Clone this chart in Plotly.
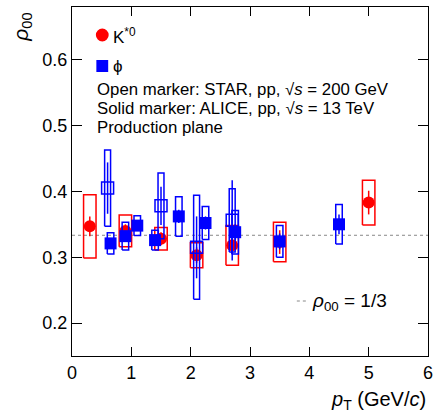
import plotly.graph_objects as go

# ALICE K*0 (solid red circles)
k_x = [0.3, 0.9, 1.5, 2.1, 2.7, 3.5, 5.0]
k_y = [0.347, 0.340, 0.328, 0.303, 0.318, 0.323, 0.383]
k_stat = [0.015, 0.010, 0.010, 0.012, 0.014, 0.018, 0.018]
k_sys = [0.048, 0.024, 0.017, 0.019, 0.030, 0.030, 0.034]

# ALICE phi (solid blue squares)
p_x = [0.65, 0.9, 1.1, 1.4, 1.8, 2.25, 2.75, 3.5, 4.5]
p_y = [0.321, 0.332, 0.348, 0.326, 0.362, 0.352, 0.338, 0.324, 0.350]
p_stat = [0.008, 0.008, 0.008, 0.008, 0.010, 0.010, 0.012, 0.012, 0.015]
p_sys = [0.016, 0.021, 0.015, 0.015, 0.030, 0.025, 0.033, 0.024, 0.030]

# STAR phi (open blue squares)
s_x = [0.6, 1.5, 2.1, 2.7]
s_y = [0.405, 0.378, 0.315, 0.356]
s_stat = [0.039, 0.029, 0.047, 0.061]
s_sys = [0.058, 0.050, 0.079, 0.048]

x_ticks = [0, 1, 2, 3, 4, 5, 6]
y_ticks = [0.2, 0.3, 0.4, 0.5, 0.6]

RED = "#ff0000"
BLUE = "#0000ff"
FONT = "Liberation Sans, Arial, Helvetica, sans-serif"


def box_path(xs, ys, es, hw):
    bx, by = [], []
    for x, y, e in zip(xs, ys, es):
        bx += [x - hw, x + hw, x + hw, x - hw, x - hw, None]
        by += [y - e, y - e, y + e, y + e, y - e, None]
    return bx, by


fig = go.Figure()

# reference line 1/3
fig.add_trace(go.Scatter(x=[0, 6], y=[1 / 3, 1 / 3], mode="lines",
                         line=dict(color="#888888", width=1, dash="dot"),
                         showlegend=False, hoverinfo="skip"))

# K* ALICE
bx, by = box_path(k_x, k_y, k_sys, 0.105)
fig.add_trace(go.Scatter(x=bx, y=by, mode="lines", line=dict(color=RED, width=1.5),
                         showlegend=False, hoverinfo="skip"))
fig.add_trace(go.Scatter(x=k_x, y=k_y, mode="markers",
                         marker=dict(symbol="circle", size=12, color=RED),
                         error_y=dict(type="data", array=k_stat, color=RED, thickness=1.5, width=0),
                         showlegend=False))

# phi ALICE
bx, by = box_path(p_x, p_y, p_sys, 0.055)
fig.add_trace(go.Scatter(x=bx, y=by, mode="lines", line=dict(color=BLUE, width=1.5),
                         showlegend=False, hoverinfo="skip"))
fig.add_trace(go.Scatter(x=p_x, y=p_y, mode="markers",
                         marker=dict(symbol="square", size=12, color=BLUE),
                         error_y=dict(type="data", array=p_stat, color=BLUE, thickness=1.5, width=0),
                         showlegend=False))

# phi STAR
bx, by = box_path(s_x, s_y, s_sys, 0.05)
fig.add_trace(go.Scatter(x=bx, y=by, mode="lines", line=dict(color=BLUE, width=1.5),
                         showlegend=False, hoverinfo="skip"))
fig.add_trace(go.Scatter(x=s_x, y=s_y, mode="markers",
                         marker=dict(symbol="square-open", size=12, color=BLUE,
                                     line=dict(width=1.5, color=BLUE)),
                         error_y=dict(type="data", array=s_stat, color=BLUE, thickness=1.5, width=0),
                         showlegend=False))

W, H = 435, 415
ml, mr, mt, mb = 72, 2, 7, 59
pw, ph = W - ml - mr, H - mt - mb


def px2paper(px, py):
    return (px - ml) / pw, (H - mb - py) / ph


shapes = []
# legend symbols
cx, cy = px2paper(102.7, 35)
r = 6.5
shapes.append(dict(type="circle", xref="paper", yref="paper",
                   x0=cx - r / pw, x1=cx + r / pw, y0=cy - r / ph, y1=cy + r / ph,
                   fillcolor=RED, line=dict(color=RED, width=0)))
sx, sy = px2paper(102.7, 66)
h = 6
shapes.append(dict(type="rect", xref="paper", yref="paper",
                   x0=sx - h / pw, x1=sx + h / pw, y0=sy - h / ph, y1=sy + h / ph,
                   fillcolor=BLUE, line=dict(color=BLUE, width=0)))
# dotted line sample for 1/3
lx0, ly = px2paper(300, 301)
lx1, _ = px2paper(312, 301)
shapes.append(dict(type="line", xref="paper", yref="paper", x0=lx0, x1=lx1, y0=ly, y1=ly,
                   line=dict(color="#888888", width=1, dash="dot")))

annotations = []


def ann(text, px, py, size, xanchor="left", yanchor="middle", angle=0):
    ax, ay = px2paper(px, py)
    annotations.append(dict(text=text, x=ax, y=ay, xref="paper", yref="paper",
                            xanchor=xanchor, yanchor=yanchor, showarrow=False,
                            textangle=angle, font=dict(family=FONT, size=size, color="black")))


ann("K<sup>*0</sup>", 112, 36, 17)
ann("ϕ", 112, 66, 17)
ann("Open marker: STAR, pp, √<i>s</i> = 200 GeV", 95, 90, 16.8)
ann("Solid marker: ALICE, pp, √<i>s</i> = 13 TeV", 95, 109, 16.8)
ann("Production plane", 95, 128, 16.8)
ann("<i>ρ</i><sub>00</sub> = 1/3", 313, 302, 19)
ann("<i>ρ</i><sub>00</sub>", 21, 27, 21, xanchor="center", angle=-90)
ann("<i>p</i><sub>T</sub> (GeV/<i>c</i>)", 433, 400, 20, xanchor="right")

axis_common = dict(showline=True, linecolor="black", linewidth=1, mirror="ticks",
                   ticks="inside", tickcolor="black", showgrid=False, zeroline=False,
                   ticklabeloverflow="allow",
                   tickfont=dict(family=FONT, size=18, color="black"))

fig.update_layout(
    width=W, height=H,
    margin=dict(l=ml, r=mr, t=mt, b=mb),
    paper_bgcolor="white", plot_bgcolor="white",
    xaxis=dict(range=[0, 6], tickvals=x_ticks, ticktext=[str(v) for v in x_ticks],
               ticklen=9, **axis_common),
    yaxis=dict(range=[0.15, 0.68], tickvals=y_ticks, ticktext=[f"{v:.1f}" for v in y_ticks],
               ticklen=10, **axis_common),
    shapes=shapes, annotations=annotations, showlegend=False,
)

fig.write_html("out.html", config={"displayModeBar": False},
               post_script="document.body.style.margin='0';document.body.style.overflow='hidden';")
